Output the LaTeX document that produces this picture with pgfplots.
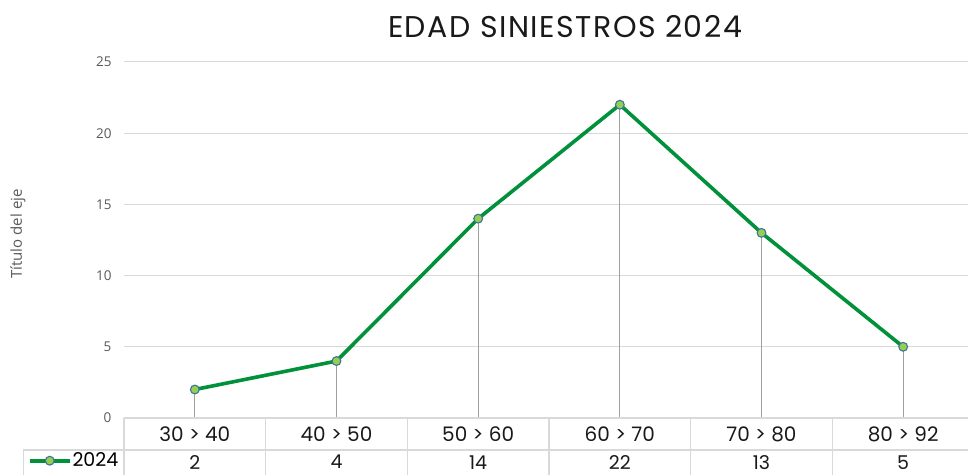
\documentclass[border=0pt]{standalone}
\usepackage{pgfplots}
\pgfplotsset{compat=1.18}
\usepackage{pgfplotstable}
\usepackage{fontspec}
\setmainfont{Poppins}
\newfontfamily\tickfont{Open Sans}
\definecolor{lineg}{HTML}{00913A}
\definecolor{markf}{HTML}{92D050}
\definecolor{markd}{HTML}{41719C}
\definecolor{gridc}{HTML}{D9D9D9}
\definecolor{dropc}{HTML}{A0A0A0}
\definecolor{tickc}{HTML}{595959}
\pgfplotstableread{
x label value
0 {30 > 40} 2
1 {40 > 50} 4
2 {50 > 60} 14
3 {60 > 70} 22
4 {70 > 80} 13
5 {80 > 92} 5
}\datatab
\begin{document}
\begin{tikzpicture}[x=1pt,y=1pt]
\useasboundingbox (0,0) rectangle (968,474);
\node[font=\fontsize{30}{34}\selectfont\addfontfeature{LetterSpace=5}, text=black!90] at (565,447) {EDAD SINIESTROS 2024};
\node[rotate=90, font=\tickfont\fontsize{15}{17}\selectfont, text=tickc] at (18,240) {Título del eje};
\begin{axis}[
  at={(124pt,56pt)}, anchor=south west,
  scale only axis, width=850pt, height=356pt,
  xmin=-0.5, xmax=5.5, ymin=0, ymax=25,
  ytick={0,5,10,15,20,25}, xtick=\empty,
  ymajorgrids, grid style={gridc, line width=1pt},
  axis line style={draw=none},
  major tick length=0pt,
  /pgf/number format/assume math mode=true,
  yticklabel style={font=\tickfont\fontsize{13.5}{15}\selectfont, text=tickc, xshift=-9pt},
  clip=false,
  legend style={draw=none, fill=none, at={(axis description cs:-0.113,-0.12)}, anchor=west,
    font=\fontsize{19}{20}\selectfont, inner sep=0pt, outer sep=0pt, legend cell align=left,
    nodes={inner sep=1pt}},
  legend image code/.code={\draw[mark repeat=2, mark phase=2] plot coordinates {(0pt,0pt)(20pt,0pt)(40pt,0pt)};},
]
% drop lines
\addplot[ycomb, dropc, line width=1.3pt, mark=none, forget plot] table[x=x, y=value] {\datatab};
% table grid
\draw[gridc, line width=1.2pt] (axis cs:-0.5,0) -- (axis cs:5.5,0);
\draw[gridc, line width=1.2pt] (axis cs:-1.211,-2.25) -- (axis cs:5.5,-2.25);
\draw[gridc, line width=1.2pt] (axis cs:-1.211,-2.25) -- (axis cs:-1.211,-5);
\draw[gridc, line width=1.2pt] (axis cs:-0.5,0) -- (axis cs:-0.5,-5);
\draw[gridc, line width=1.2pt] (axis cs:0.5,0) -- (axis cs:0.5,-5);
\draw[gridc, line width=1.2pt] (axis cs:1.5,0) -- (axis cs:1.5,-5);
\draw[gridc, line width=1.2pt] (axis cs:2.5,0) -- (axis cs:2.5,-5);
\draw[gridc, line width=1.2pt] (axis cs:3.5,0) -- (axis cs:3.5,-5);
\draw[gridc, line width=1.2pt] (axis cs:4.5,0) -- (axis cs:4.5,-5);
% table text
\addplot[draw=none, mark=none, forget plot, point meta=explicit symbolic,
  nodes near coords, every node near coord/.style={anchor=center, font=\fontsize{20}{22}\selectfont, text=black!90}]
  table[x=x, y expr=-1.12, meta=label] {\datatab};
\addplot[draw=none, mark=none, forget plot, point meta=explicit symbolic,
  nodes near coords, every node near coord/.style={anchor=center, font=\fontsize{19}{21}\selectfont, text=black!90}]
  table[x=x, y expr=-3.1, meta=value] {\datatab};
% main line
\addplot[lineg, line width=3.6pt, mark=*, mark size=4.4pt,
  mark options={fill=markf, draw=markd, line width=1.1pt}] table[x=x, y=value] {\datatab};
\legend{2024}
\end{axis}
\end{tikzpicture}
\end{document}
